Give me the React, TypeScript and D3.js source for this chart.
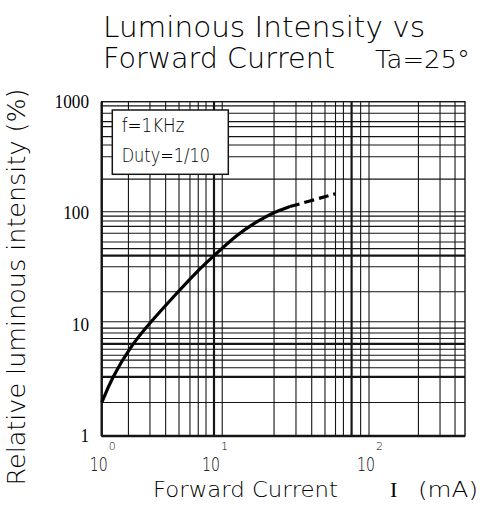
import React from "react";
import * as d3 from "d3";

// curve read from the sheet: solid part, then the dashed tail
const currentSolid = [1, 1.23, 1.79, 2.69, 4.66, 7.25, 10.15, 14.0, 18.8, 24.8, 30.9];
const intensitySolid = [1.99, 3.3, 6.3, 10.4, 19.1, 30.9, 42.2, 63.7, 84, 103, 114.5];
const currentDashed = [30.9, 43.7, 60.4];
const intensityDashed = [114.5, 131, 149];

// grid lines as drawn on the sheet (it is not a perfect log grid)
const gridCurrent = [1.73, 2.69, 3.71, 4.88, 6.11, 7.24, 8.49, 10, 11.3, 24.4, 33.8, 42.7, 52, 60.8, 68.4, 77.2, 88.3, 100, 229, 329, 423];
const heavyCurrent = [10, 77.2];
const gridIntensity = [2.0, 3.4, 4.1, 4.8, 5.3, 6.0, 6.7, 7.5, 8.4, 9.3, 10.6, 19.7, 33, 41.5, 48, 55, 66, 76, 85, 94, 103, 202, 321, 409, 486, 598, 663, 788, 917];
const heavyIntensity = [3.4, 6.7, 41.5];

const yTicks = [1, 10, 100, 1000];
const xTicks = [1, 10, 100];
const xTickExp = ["0", "1", "2"];

const W = 485;
const H = 517;

export default function App() {
  const x = d3.scaleLog().domain([1, 10, 100, 500]).range([101.7, 214, 369, 465]);
  const y = d3.scaleLog().domain([1, 1000]).range([436, 101.7]);

  const x0 = x(1), x1 = x(500), y0 = y(1), y1 = y(1000);

  const line = d3
    .line<[number, number]>()
    .x((d) => x(d[0]))
    .y((d) => y(d[1]))
    .curve(d3.curveBasis);

  const solid = line(currentSolid.map((c, i) => [c, intensitySolid[i]]));
  const dashed = line(currentDashed.map((c, i) => [c, intensityDashed[i]]));

  const ink = "#151515";
  const sans = "'DejaVu Sans', sans-serif";

  return (
    <svg width={W} height={H} style={{ position: "absolute", left: 0, top: 0, background: "#fff" }}>
      {/* grid */}
      {gridCurrent.map((v) => (
        <line key={"v" + v} x1={x(v)} x2={x(v)} y1={y1} y2={y0} stroke={ink}
          strokeWidth={heavyCurrent.includes(v) ? 2.2 : 1.1} />
      ))}
      {gridIntensity.map((v) => (
        <line key={"h" + v} x1={x0} x2={x1} y1={y(v)} y2={y(v)} stroke={ink}
          strokeWidth={heavyIntensity.includes(v) ? 2.2 : 1.1} />
      ))}
      <rect x={x0} y={y1} width={x1 - x0} height={y0 - y1} fill="none" stroke={ink} strokeWidth={1.4} />
      <line x1={x0} x2={x0} y1={y1} y2={y0} stroke={ink} strokeWidth={2.4} />
      <line x1={x0} x2={x1} y1={y0} y2={y0} stroke={ink} strokeWidth={2.4} />

      {/* curve */}
      <path d={solid || ""} fill="none" stroke="#000" strokeWidth={3.2} />
      <path d={dashed || ""} fill="none" stroke="#000" strokeWidth={3.2} strokeDasharray="10,5" />

      {/* legend box */}
      <rect x={112.3} y={110} width={116} height={64.3} fill="#fff" stroke={ink} strokeWidth={1.5} />
      <text x={121.7} y={131.7} fill="#000" fontFamily={sans} fontSize={19} fontWeight={200} textLength={62.7} lengthAdjust="spacingAndGlyphs">f=1KHz</text>
      <text x={121.7} y={161.7} fill="#000" fontFamily={sans} fontSize={19} fontWeight={200} textLength={88.3} lengthAdjust="spacingAndGlyphs">Duty=1/10</text>

      {/* y tick labels */}
      {yTicks.map((v) => (
        <text key={"yt" + v} x={89} y={y(v) + 6} textAnchor="end" fontFamily="'Liberation Serif', serif"
          fontSize={18} textLength={String(v).length * 8.6} lengthAdjust="spacingAndGlyphs">{v}</text>
      ))}

      {/* x tick labels */}
      {xTicks.map((v, i) => (
        <g key={"xt" + v}>
          <text x={x(v) - 12} y={470.5} fontFamily={sans} fontSize={19} fontWeight={200} textLength={18} lengthAdjust="spacingAndGlyphs">10</text>
          <text x={x(v) + 7} y={450} fontFamily={sans} fontSize={11} fontWeight={200}>{xTickExp[i]}</text>
        </g>
      ))}

      {/* titles */}
      <text x={103} y={37} fontFamily={sans} fontSize={28} fontWeight={200} textLength={322} lengthAdjust="spacingAndGlyphs">Luminous Intensity vs</text>
      <text x={103} y={68} fontFamily={sans} fontSize={28} fontWeight={200} textLength={232} lengthAdjust="spacingAndGlyphs">Forward Current</text>
      <text x={375} y={68} fontFamily={sans} fontSize={24} fontWeight={200} textLength={95} lengthAdjust="spacingAndGlyphs">Ta=25°</text>

      <text transform="translate(25,287) rotate(-90)" textAnchor="middle" fontFamily={sans} fontSize={25} fontWeight={200}
        textLength={397} lengthAdjust="spacingAndGlyphs">Relative luminous intensity (%)</text>

      <text x={153} y={497} fontFamily={sans} fontSize={21} fontWeight={200} textLength={185} lengthAdjust="spacingAndGlyphs">Forward Current</text>
      <text x={390} y={497} fontFamily="'Liberation Serif', serif" fontSize={22}>I</text>
      <text x={418} y={497} fontFamily={sans} fontSize={21} fontWeight={200} textLength={60} lengthAdjust="spacingAndGlyphs">(mA)</text>
    </svg>
  );
}
